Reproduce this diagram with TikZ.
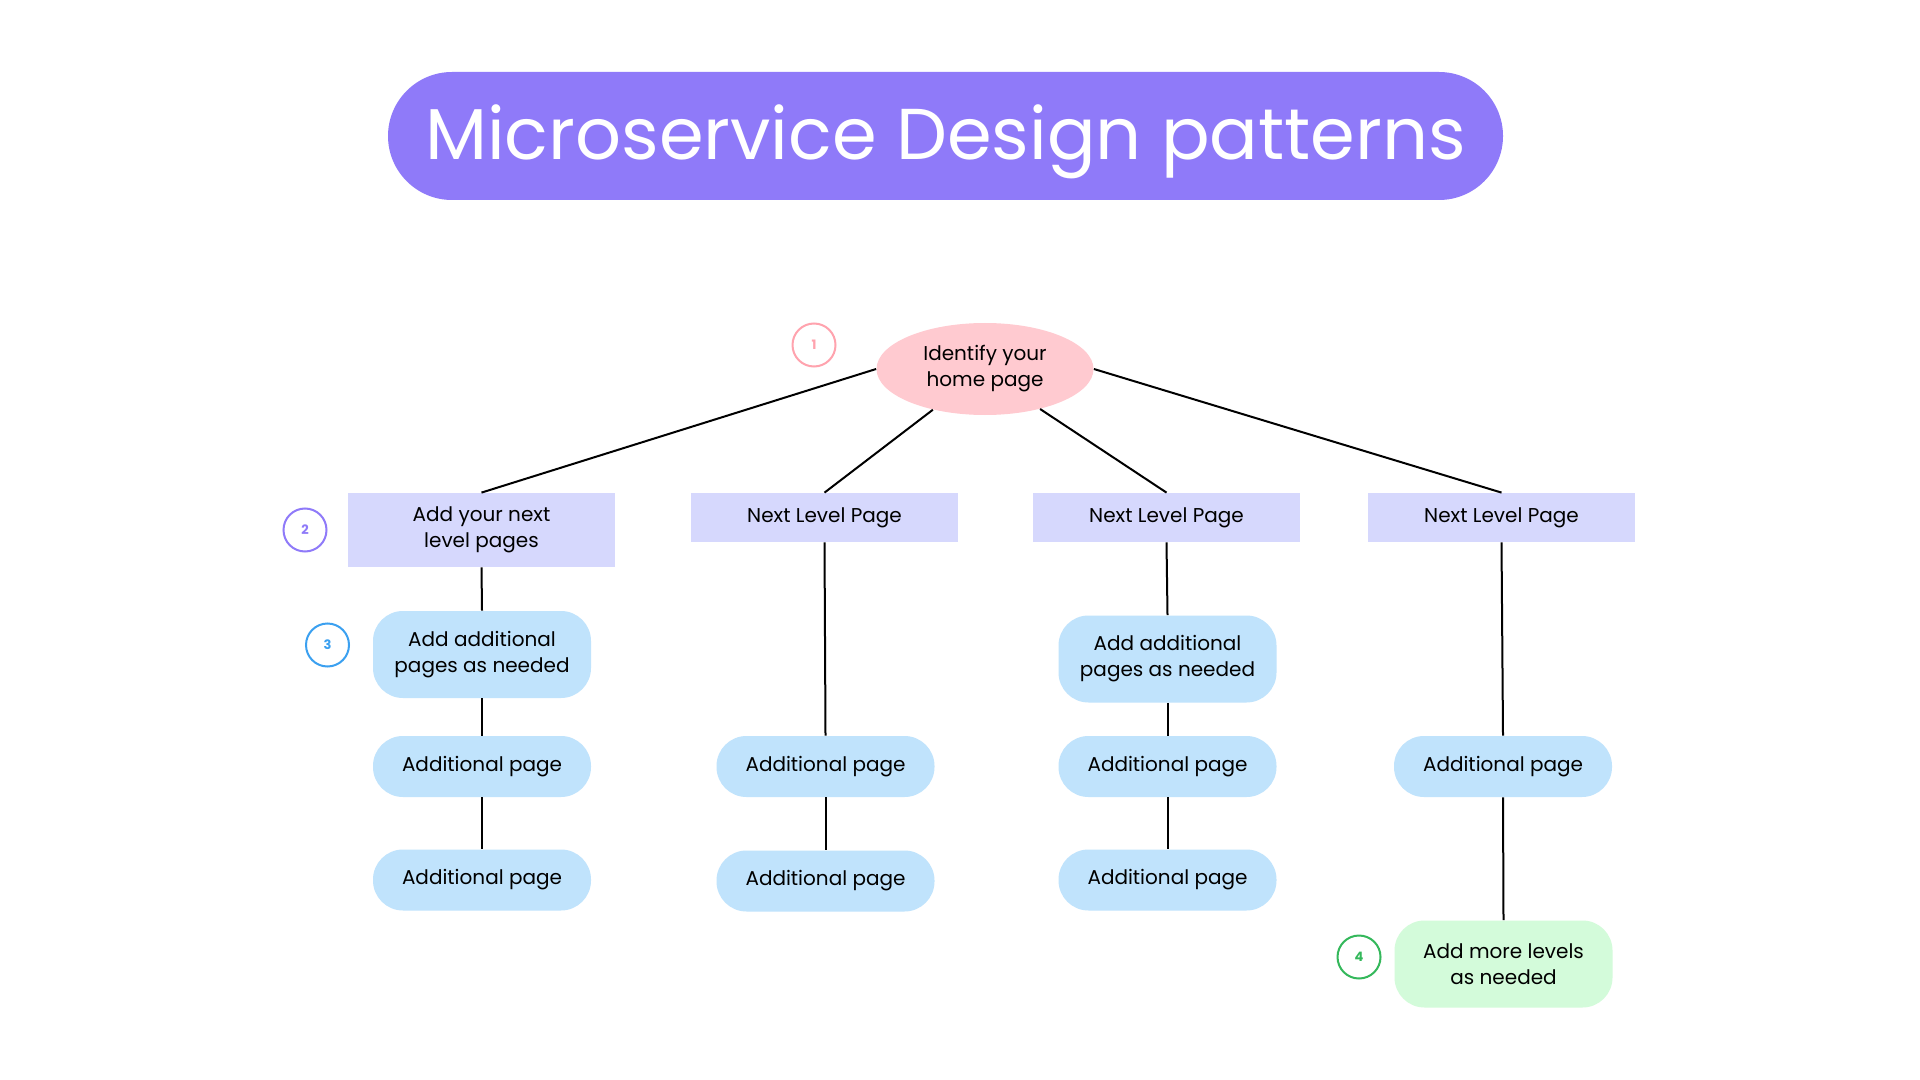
\documentclass[tikz,border=0pt]{standalone}
\usepackage{fontspec}
\setmainfont{Poppins}
\usetikzlibrary{shapes.geometric}
\definecolor{titlepurple}{HTML}{8F7AF9}
\definecolor{homepink}{HTML}{FFCAD0}
\definecolor{pinkring}{HTML}{FFA3AE}
\definecolor{lavender}{HTML}{D6D8FD}
\definecolor{lightblue}{HTML}{C0E3FC}
\definecolor{bluering}{HTML}{3BA0F0}
\definecolor{lightgreen}{HTML}{D3FBDA}
\definecolor{greenring}{HTML}{34B85B}
\tikzset{
  txt/.style={font=\fontsize{10}{13}\selectfont, align=center, text=black, inner sep=0pt},
  levelbox/.style={txt, fill=lavender, minimum width=133.5pt},
  pagebox/.style={txt, fill=lightblue, rounded corners=15pt, minimum width=109pt},
  ring/.style={circle, draw, line width=1pt, minimum size=21.5pt, inner sep=0pt, font=\fontsize{6.5}{7}\selectfont\bfseries},
  link/.style={line width=1pt, black}
}
\begin{document}
\begin{tikzpicture}[x=0.5pt,y=-0.5pt]
\useasboundingbox (0,0) rectangle (1920,1080);
\fill[white] (0,0) rectangle (1920,1080);
% title
\node[fill=titlepurple, rounded corners=32pt, minimum width=557.5pt, minimum height=64pt, inner sep=0pt,
      label={[name=titletext, text=white, font=\fontsize{36}{40}\selectfont, yshift=-3pt, inner sep=0pt]center:Microservice Design patterns}] (title) at (945.5,136) {};
% home
\node[txt, ellipse, fill=homepink, minimum width=108.5pt, minimum height=46pt] (home) at (985,369) {Identify your\\home page};
\node[ring, draw=pinkring, text=pinkring] (c1) at (814,345) {1};
% level boxes
\node[levelbox, minimum height=37pt] (b1) at (481.5,530) {Add your next\\level pages};
\node[levelbox, minimum height=24.5pt] (b2) at (824.5,517.5) {Next Level Page};
\node[levelbox, minimum height=24.5pt] (b3) at (1166.5,517.5) {Next Level Page};
\node[levelbox, minimum height=24.5pt] (b4) at (1501.5,517.5) {Next Level Page};
\node[ring, draw=titlepurple, text=titlepurple] (c2) at (305,530) {2};
% column 1
\node[pagebox, minimum height=43.5pt] (a1) at (482,654.5) {Add additional\\pages as needed};
\node[ring, draw=bluering, text=bluering] (c3) at (327.5,645) {3};
\node[pagebox, minimum height=30.5pt] (p11) at (482,766.5) {Additional page};
\node[pagebox, minimum height=30.5pt] (p12) at (482,880) {Additional page};
% column 2
\node[pagebox, minimum height=30.5pt] (p21) at (825.5,766.5) {Additional page};
\node[pagebox, minimum height=30.5pt] (p22) at (825.5,881) {Additional page};
% column 3
\node[pagebox, minimum height=43.5pt] (a3) at (1167.5,659) {Add additional\\pages as needed};
\node[pagebox, minimum height=30.5pt] (p31) at (1167.5,766.5) {Additional page};
\node[pagebox, minimum height=30.5pt] (p32) at (1167.5,880) {Additional page};
% column 4
\node[pagebox, minimum height=30.5pt] (p41) at (1503,766.5) {Additional page};
\node[pagebox, fill=lightgreen, minimum height=43.5pt] (g4) at (1503.5,964) {Add more levels\\as needed};
\node[ring, draw=greenring, text=greenring] (c4) at (1359,957) {4};
% connectors
\draw[link] (home.west) -- (b1.north);
\draw[link] (home.218) -- (b2.north);
\draw[link] (home.324) -- (b3.north);
\draw[link] (home.east) -- (b4.north);
\draw[link] (b1.south) -- (a1.north);
\draw[link] (a1.south) -- (p11.north);
\draw[link] (p11.south) -- (p12.north);
\draw[link] (b2.south) -- (p21.north);
\draw[link] (p21.south) -- (p22.north);
\draw[link] (b3.south) -- (a3.north);
\draw[link] (a3.south) -- (p31.north);
\draw[link] (p31.south) -- (p32.north);
\draw[link] (b4.south) -- (p41.north);
\draw[link] (p41.south) -- (g4.north);
\end{tikzpicture}
\end{document}
